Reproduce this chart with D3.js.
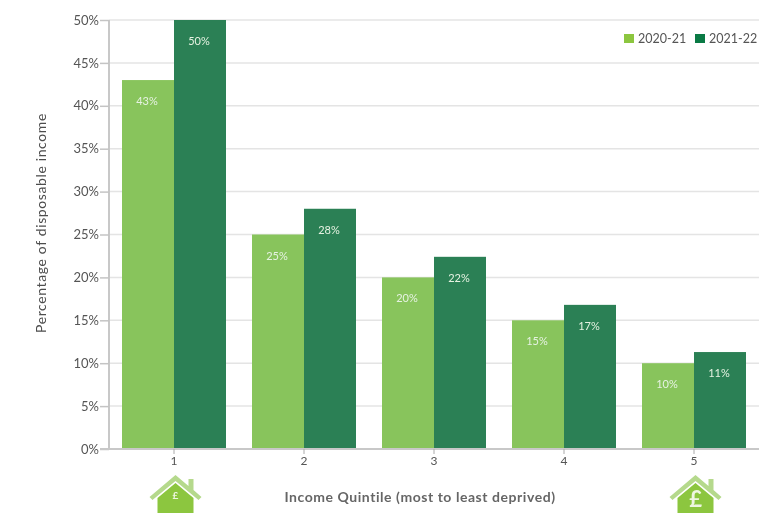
<!DOCTYPE html>
<html><head><meta charset="utf-8">
<script src="https://cdn.jsdelivr.net/npm/d3@7"></script>
<style>
html,body{margin:0;padding:0;background:#fff;overflow:hidden}
svg{display:block;filter:blur(0.7px)}
text{font-family:Lato,"Open Sans",sans-serif}
</style></head><body>
<svg id="c" width="763" height="513"></svg>
<script>
const quintiles = ["1","2","3","4","5"];
const series = ["2020-21","2021-22"];
const values2021 = [43,25,20,15,10];
const values2122 = [50,28,22.4,16.8,11.3];
const labels2021 = ["43%","25%","20%","15%","10%"];
const labels2122 = ["50%","28%","22%","17%","11%"];
const yTicks = [0,5,10,15,20,25,30,35,40,45,50];
const barColors = ["#88c45c","#2b8055"];
const legendColors = ["#8cc63f","#0a7a45"];
const yTitle = "Percentage of disposable income";
const xTitle = "Income Quintile (most to least deprived)";

const svg = d3.select("#c");
const L=109,R=759,T=20,B=449;
const x = d3.scaleBand().domain(quintiles).range([L,R]).paddingInner(0.2).paddingOuter(0.1);
const x1 = d3.scaleBand().domain(series).range([0,x.bandwidth()]);
const y = d3.scaleLinear().domain([0,50]).range([B,T]);

// grid
svg.append("g").selectAll("line").data(yTicks.filter(d=>d>0)).join("line")
  .attr("x1",L).attr("x2",R).attr("y1",d=>y(d)).attr("y2",d=>y(d))
  .attr("stroke","#e4e4e4").attr("stroke-width",1.5);

// bars
[values2021,values2122].forEach((vals,i)=>{
  svg.append("g").selectAll("rect").data(vals).join("rect")
    .attr("x",(d,j)=>x(quintiles[j])+x1(series[i]))
    .attr("width",x1.bandwidth())
    .attr("y",d=>y(d)).attr("height",d=>B-y(d))
    .attr("fill",barColors[i]);
});

// value labels
[[values2021,labels2021],[values2122,labels2122]].forEach(([vals,labs],i)=>{
  svg.append("g").selectAll("text").data(vals).join("text")
    .attr("x",(d,j)=>x(quintiles[j])+x1(series[i])+x1.bandwidth()/2-1)
    .attr("y",d=>y(d)+25)
    .attr("text-anchor","middle").attr("font-size",11)
    .attr("fill","#e6f2e2").text((d,j)=>labs[j]);
});

// axes
const yAxis = svg.append("g").attr("transform",`translate(${L},0)`)
  .call(d3.axisLeft(y).tickValues(yTicks).tickFormat(d=>d+"%").tickSize(9).tickPadding(1));
yAxis.selectAll("text").attr("font-size",13).attr("fill","#555").style("font-family",'Lato,sans-serif');
yAxis.selectAll("line").attr("stroke","#c4c4c4").attr("stroke-width",1.5);
yAxis.select(".domain").attr("d",`M0,${T}V${B}`).attr("stroke","#c8c8c8").attr("stroke-width",2);

const xAxis = svg.append("g").attr("transform",`translate(0,${B})`)
  .call(d3.axisBottom(x).tickSize(5).tickPadding(2));
xAxis.selectAll("text").attr("font-size",12).attr("fill","#555").style("font-family",'Lato,sans-serif');
xAxis.selectAll("line").attr("stroke","#aaa");
xAxis.select(".domain").attr("d",`M${L-9},0H${R}`).attr("stroke","#c8c8c8").attr("stroke-width",2);

// titles
svg.append("text").attr("transform",`translate(46,223) rotate(-90)`)
  .attr("text-anchor","middle").attr("font-size",14).attr("letter-spacing",0.62).attr("fill","#4d4d4d").text(yTitle);
svg.append("text").attr("x",420).attr("y",502)
  .attr("text-anchor","middle").attr("font-size",14).attr("font-weight",700).attr("letter-spacing",0.55).attr("fill","#666").text(xTitle);

// legend
const legendX = [624,695];
series.forEach((s,i)=>{
  svg.append("rect").attr("x",legendX[i]).attr("y",34).attr("width",10).attr("height",9).attr("fill",legendColors[i]);
  svg.append("text").attr("x",legendX[i]+14).attr("y",43).attr("font-size",12.5).attr("fill","#555").text(s);
});

// house icons, centred on the first and last quintile
const house = "M-26,22 L0,0 L13,11 V4 H18 V15 L26,22 L23,25 L0,6 L-23,25 Z";
const body = "M-18,23 L0,8 L18,23 V45 H-18 Z";
[["1",10,24],["5",22,32]].forEach(([q,fs,by])=>{
  const g = svg.append("g").attr("transform",`translate(${x(q)+x.bandwidth()/2+1.5},475)`);
  g.append("path").attr("d",house).attr("fill","#b5d98c");
  g.append("path").attr("d",body).attr("fill","#8cc63f");
  g.append("text").attr("y",by).attr("text-anchor","middle")
    .attr("font-size",fs).attr("font-weight",700).attr("fill","#eef6e0").text("£");
});
</script></body></html>
